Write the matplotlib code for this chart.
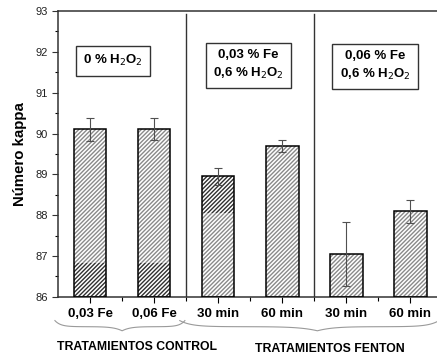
import numpy as np
import matplotlib
matplotlib.use("Agg")
import matplotlib.pyplot as plt

# data
labels = ['0,03 Fe', '0,06 Fe', '30 min', '60 min', '30 min', '60 min']
kappa = [90.1, 90.1, 88.95, 89.7, 87.05, 88.1]
err = [0.29, 0.27, 0.2, 0.14, 0.78, 0.28]
# darker hatched part of some bars (bottom, top)
dark_lo = [86.0, 86.0, 88.05, None, None, None]
dark_hi = [86.82, 86.82, 88.95, None, None, None]
box_text = ['0 % H$_2$O$_2$', '0,03 % Fe\n0,6 % H$_2$O$_2$', '0,06 % Fe\n0,6 % H$_2$O$_2$']
group_names = ['TRATAMIENTOS CONTROL', 'TRATAMIENTOS FENTON']

plt.rcParams['font.family'] = ['Liberation Sans', 'DejaVu Sans']

fig = plt.figure(figsize=(4.37, 3.56), dpi=100)
ax = fig.add_axes([0.133, 0.166, 0.879, 0.803])

x = np.arange(1, len(kappa) + 1)
w = 0.51

# hatched fill, then outline on top
ax.bar(x, [k - 86 for k in kappa], w, bottom=86, color='white', hatch='////////',
       edgecolor='#8a8a8a', linewidth=0, zorder=2)
for i in range(len(kappa)):
    if dark_lo[i] is not None:
        ax.bar(x[i], dark_hi[i] - dark_lo[i], w, bottom=dark_lo[i], color='white',
               hatch='////////', edgecolor='#303030', linewidth=0, zorder=2.5)
ax.bar(x, [k - 86 for k in kappa], w, bottom=86, fill=False, edgecolor='black',
       linewidth=1.1, zorder=3)
ax.errorbar(x, kappa, yerr=err, fmt='none', ecolor='#505050', elinewidth=0.8,
            capsize=3, capthick=0.8, zorder=4)

# group dividers
for xd in [2.5, 4.5]:
    ax.plot([xd, xd], [86, 92.92], color='#333333', lw=1.0, zorder=1)

# text boxes
box_pos = [(1.36, 91.78), (3.47, 91.68), (5.45, 91.65)]
for (bx, by), t in zip(box_pos, box_text):
    ax.text(bx, by, t, ha='center', va='center', fontsize=9.5, fontweight='bold',
            linespacing=1.45,
            bbox=dict(boxstyle='square,pad=0.55', facecolor='white', edgecolor='#333333', lw=1.0))

ax.set_xlim(0.5, 6.5)
ax.set_ylim(86, 93)
ax.set_yticks(np.arange(86, 94, 1))
ax.set_yticks(np.arange(86.5, 93, 1), minor=True)
ax.set_xticks(x)
ax.set_xticks(np.arange(1.5, 6.5, 1), minor=True)
ax.set_xticklabels(labels, fontweight='bold', fontsize=9.5)
ax.tick_params(axis='y', labelsize=8, length=4, width=0.8, color='#333333', labelcolor='#222222')
ax.tick_params(axis='y', which='minor', length=2.5, width=0.8)
ax.tick_params(axis='x', length=4, width=0.8, pad=4)
ax.tick_params(axis='x', which='minor', length=3, width=0.8)
ax.spines['right'].set_visible(False)
for s in ['left', 'bottom', 'top']:
    ax.spines[s].set_linewidth(1.1)
    ax.spines[s].set_color('#333333')
ax.set_ylabel('Número kappa', fontweight='bold', fontsize=10.8, labelpad=6)


def brace(x0, x1, xm, y0, depth):
    # simple curly brace drawn as polyline
    t = np.linspace(0, 1, 60)
    left_x = x0 + (xm - x0) * t
    left_y = y0 - depth * (0.6 * (1 - np.exp(-t * 12)) + 0.4 * t ** 8)
    right_x = xm + (x1 - xm) * t
    right_y = y0 - depth * (0.6 * (1 - np.exp(-(1 - t) * 12)) + 0.4 * (1 - t) ** 8)
    xs = np.concatenate([left_x, right_x])
    ys = np.concatenate([left_y, right_y])
    ax.plot(xs, ys, color='#9a9a9a', lw=0.8, clip_on=False)


brace(0.45, 2.48, 1.5, 85.42, 0.25)
brace(2.4, 6.45, 4.55, 85.42, 0.25)

ax.text(1.73, 84.78, group_names[0], ha='center', va='center', fontsize=8.8, fontweight='bold',
        clip_on=False)
ax.text(4.75, 84.72, group_names[1], ha='center', va='center', fontsize=8.8, fontweight='bold',
        clip_on=False)

fig.savefig('out.png', dpi=100)
